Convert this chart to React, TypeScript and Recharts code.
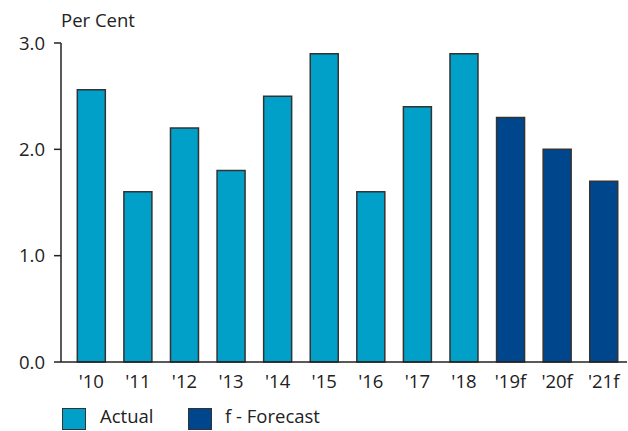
import { Bar, BarChart, Cell, XAxis, YAxis } from "recharts";

const years = ["'10", "'11", "'12", "'13", "'14", "'15", "'16", "'17", "'18", "'19f", "'20f", "'21f"];
const values = [2.56, 1.6, 2.2, 1.8, 2.5, 2.9, 1.6, 2.4, 2.9, 2.3, 2.0, 1.7];
const forecast = [false, false, false, false, false, false, false, false, false, true, true, true];
const yTicks = [0, 1, 2, 3];

const ACTUAL = "#00A0C9";
const FORECAST = "#00468C";
const INK = "#222";
const FONT = "'Open Sans', sans-serif";

const data = years.map((year, i) => ({ year, value: values[i], f: forecast[i] }));

export default function App() {
  return (
    <div
      style={{
        position: "absolute",
        left: 0,
        top: 0,
        width: 628,
        height: 431,
        background: "#fff",
        fontFamily: FONT,
        color: INK,
      }}
    >
      <div style={{ position: "absolute", left: 61, top: 7, fontSize: 18.5 }}>Per Cent</div>
      <BarChart
        width={628}
        height={431}
        data={data}
        margin={{ top: 43, right: 1, bottom: 39, left: 0 }}
        barCategoryGap="20%"
      >
        <XAxis
          dataKey="year"
          padding={{ left: 7, right: 0 }}
          axisLine={{ stroke: INK, strokeWidth: 1.5 }}
          tickLine={false}
          tickSize={0}
          tickMargin={13}
          height={30}
          interval={0}
          tick={{ fill: INK, fontSize: 18.5, fontFamily: FONT }}
        />
        <YAxis
          domain={[0, 3]}
          ticks={yTicks}
          width={61}
          tickFormatter={(v: number) => v.toFixed(1)}
          axisLine={{ stroke: INK, strokeWidth: 1.5 }}
          tickLine={{ stroke: INK, strokeWidth: 1.5 }}
          tickSize={7}
          tickMargin={9}
          tick={{ fill: INK, fontSize: 18.5, fontFamily: FONT }}
        />
        <Bar dataKey="value" stroke="#333" strokeWidth={1.5} isAnimationActive={false}>
          {data.map((d) => (
            <Cell key={d.year} fill={d.f ? FORECAST : ACTUAL} />
          ))}
        </Bar>
      </BarChart>
      <div style={{ position: "absolute", left: 62, top: 408, width: 24, height: 22, background: ACTUAL, boxSizing: "border-box", border: "1px solid #333" }} />
      <div style={{ position: "absolute", left: 100, top: 403, fontSize: 18.5 }}>Actual</div>
      <div style={{ position: "absolute", left: 188, top: 408, width: 24, height: 22, background: FORECAST, boxSizing: "border-box", border: "1px solid #333" }} />
      <div style={{ position: "absolute", left: 225, top: 403, fontSize: 18.5 }}>f - Forecast</div>
    </div>
  );
}
